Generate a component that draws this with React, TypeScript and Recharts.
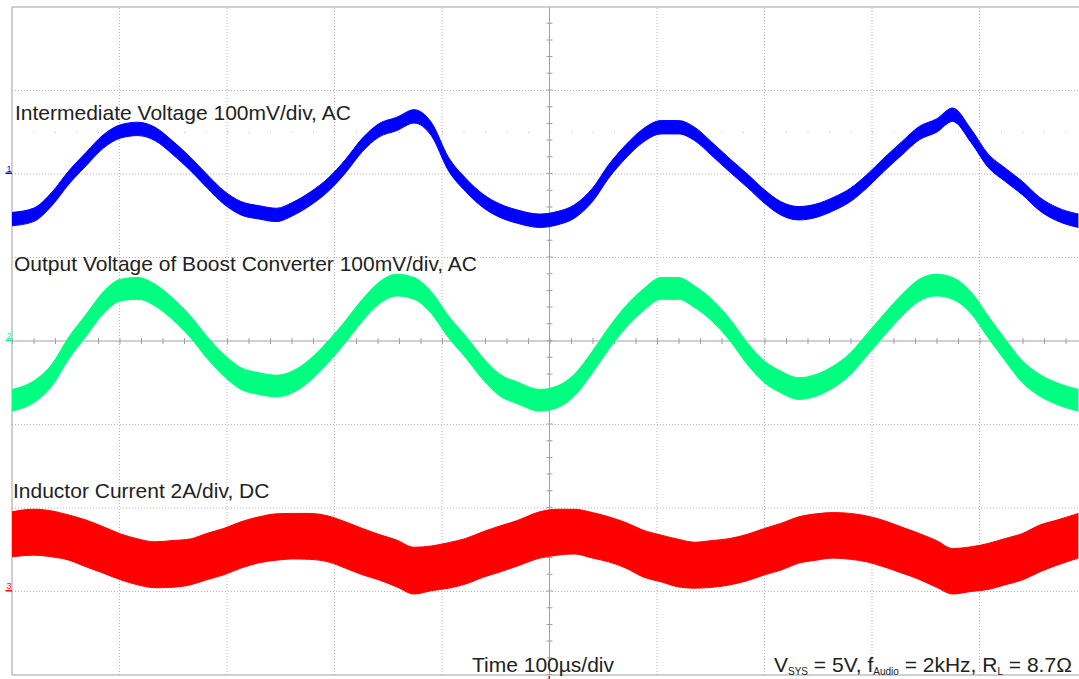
import React from "react";
import { ComposedChart, Area, XAxis, YAxis, ReferenceLine } from "recharts";

// time base: 100us/div, 10 divisions
const TIME_US = [
  0, 20, 37, 53, 69, 85, 101, 117, 133, 149,
  166, 181, 197, 213, 230, 246, 261, 277, 294, 310,
  326, 341, 358, 374, 390, 406, 422, 438, 454, 470,
  491, 507, 523, 540, 555, 571, 587, 604, 620, 635,
  651, 668, 684, 700, 715, 732, 748, 764, 780, 795,
  811, 828, 844, 860, 875, 892, 908, 924, 940, 956,
  972, 992,
];

// CH1 intermediate voltage, mV (AC), trace centre
const BLUE_MV = [
  -54, -49, -30, -4, 18, 39, 51, 54, 48, 32,
  12, -8, -28, -41, -46, -49, -42, -30, -13, 9,
  35, 52, 60, 69, 54, 12, -13, -32, -44, -51,
  -56, -53, -45, -25, 3, 27, 46, 56, 56, 48,
  30, 10, -8, -27, -41, -47, -44, -36, -25, -9,
  11, 31, 49, 58, 71, 46, 16, -1, -17, -36,
  -48, -56,
];

// CH2 boost output voltage, mV (AC), trace centre
const GREEN_MV = [
  -71, -61, -41, -8, 19, 46, 61, 63, 55, 39,
  17, -7, -29, -45, -51, -54, -49, -35, -13, 11,
  37, 57, 67, 63, 46, 17, -7, -33, -53, -62,
  -71, -67, -53, -25, 3, 29, 49, 63, 63, 53,
  37, 13, -15, -37, -49, -57, -53, -43, -27, -5,
  19, 43, 61, 67, 63, 46, 17, -11, -37, -53,
  -63, -71,
];

// CH3 inductor current, A (DC) - ripple envelope
const RED_TOP_A = [
  1.91, 1.97, 1.93, 1.83, 1.71, 1.55, 1.38, 1.26, 1.19, 1.22,
  1.26, 1.39, 1.51, 1.67, 1.79, 1.86, 1.87, 1.87, 1.81, 1.67,
  1.51, 1.37, 1.23, 1.06, 1.09, 1.17, 1.27, 1.43, 1.57, 1.7,
  1.91, 1.97, 1.97, 1.89, 1.79, 1.65, 1.47, 1.35, 1.25, 1.18,
  1.22, 1.27, 1.37, 1.51, 1.63, 1.79, 1.86, 1.89, 1.87, 1.81,
  1.7, 1.54, 1.39, 1.22, 1.03, 1.07, 1.15, 1.27, 1.39, 1.59,
  1.71, 1.87,
];
const RED_BOT_A = [
  0.83, 0.87, 0.83, 0.75, 0.59, 0.44, 0.28, 0.16, 0.09, 0.1,
  0.16, 0.28, 0.4, 0.56, 0.69, 0.75, 0.78, 0.77, 0.71, 0.56,
  0.4, 0.28, 0.11, -0.06, 0.02, 0.08, 0.18, 0.34, 0.47, 0.61,
  0.8, 0.87, 0.9, 0.8, 0.71, 0.56, 0.35, 0.23, 0.11, 0.08,
  0.1, 0.16, 0.26, 0.4, 0.51, 0.68, 0.75, 0.8, 0.77, 0.71,
  0.59, 0.44, 0.29, 0.1, -0.06, 0.0, 0.05, 0.16, 0.28, 0.47,
  0.63, 0.8,
];

const BLUE_RIPPLE_MV = 8;
const GREEN_RIPPLE_MV = 13;

// channel ground positions in divisions, and scales
const CH1_OFFSET = 2;
const CH2_OFFSET = 0;
const CH3_OFFSET = -3;
const MV_PER_DIV = 100;
const A_PER_DIV = 2;

const BLUE = "#0000ff";
const GREEN = "#00ff80";
const RED = "#ff0000";

const W = 1100;
const H = 679;
const MARGIN = { top: 7, right: 13, bottom: 4, left: 12 };
const DIV_Y = (H - MARGIN.top - MARGIN.bottom) / 8;
const groundPx = (div: number) => MARGIN.top + (4 - div) * DIV_Y;

const GRID_X = [100, 200, 300, 400, 600, 700, 800, 900];
const GRID_Y = [-3, -2, -1, 1, 2, 3];
const REF_Z = 50; // keep grid under the traces

const data = TIME_US.map((t, i) => ({
  t,
  blue: [
    CH1_OFFSET + (BLUE_MV[i] - BLUE_RIPPLE_MV) / MV_PER_DIV,
    CH1_OFFSET + (BLUE_MV[i] + BLUE_RIPPLE_MV) / MV_PER_DIV,
  ],
  green: [
    CH2_OFFSET + (GREEN_MV[i] - GREEN_RIPPLE_MV) / MV_PER_DIV,
    CH2_OFFSET + (GREEN_MV[i] + GREEN_RIPPLE_MV) / MV_PER_DIV,
  ],
  red: [CH3_OFFSET + RED_BOT_A[i] / A_PER_DIV, CH3_OFFSET + RED_TOP_A[i] / A_PER_DIV],
}));

const MARKERS = [
  { label: "1", div: CH1_OFFSET, color: BLUE },
  { label: "2", div: CH2_OFFSET, color: GREEN },
  { label: "3", div: CH3_OFFSET, color: RED },
];

const FONT = "'Liberation Sans', Arial, sans-serif";

export default function App() {
  return (
    <div
      style={{
        position: "absolute",
        left: 0,
        top: 0,
        width: 1079,
        height: 679,
        overflow: "hidden",
        background: "#fff",
      }}
    >
      <ComposedChart width={W} height={H} data={data} margin={MARGIN}>
        <XAxis dataKey="t" type="number" domain={[0, 1000]} hide allowDataOverflow />
        <YAxis type="number" domain={[-4, 4]} hide allowDataOverflow />

        {GRID_X.map((x) => (
          <ReferenceLine key={`gx${x}`} x={x} stroke="#b4b4b4" strokeDasharray="1 2" zIndex={REF_Z} />
        ))}
        {GRID_Y.map((y) => (
          <ReferenceLine key={`gy${y}`} y={y} stroke="#b4b4b4" strokeDasharray="1 2" zIndex={REF_Z} />
        ))}
        <ReferenceLine y={2.5} stroke="#b4b4b4" strokeDasharray="1 20.5" zIndex={REF_Z} />

        {/* centre axes with minor ticks */}
        <ReferenceLine x={500} stroke="#a0a0a0" zIndex={REF_Z} />
        <ReferenceLine x={500} stroke="#a0a0a0" strokeWidth={6} strokeDasharray="1 15.7" zIndex={REF_Z} />
        <ReferenceLine y={0} stroke="#a0a0a0" zIndex={REF_Z} />
        <ReferenceLine y={0} stroke="#a0a0a0" strokeWidth={6} strokeDasharray="1 20.5" zIndex={REF_Z} />

        {/* frame */}
        <ReferenceLine x={0} stroke="#a0a0a0" zIndex={REF_Z} />
        <ReferenceLine y={4} stroke="#a0a0a0" zIndex={REF_Z} />
        <ReferenceLine y={-4} stroke="#a0a0a0" zIndex={REF_Z} />

        <Area
          dataKey="blue"
          type="monotone"
          stroke={BLUE}
          strokeWidth={1}
          fill={BLUE}
          fillOpacity={1}
          dot={false}
          activeDot={false}
          isAnimationActive={false}
        />
        <Area
          dataKey="green"
          type="monotone"
          stroke={GREEN}
          strokeWidth={1}
          fill={GREEN}
          fillOpacity={1}
          dot={false}
          activeDot={false}
          isAnimationActive={false}
        />
        <Area
          dataKey="red"
          type="monotone"
          stroke={RED}
          strokeWidth={1}
          fill={RED}
          fillOpacity={1}
          dot={false}
          activeDot={false}
          isAnimationActive={false}
        />
      </ComposedChart>

      <svg
        width={1079}
        height={679}
        style={{ position: "absolute", left: 0, top: 0, pointerEvents: "none" }}
      >
        <g fontFamily={FONT} fontSize={21} fill="#222">
          <text x={15} y={120}>Intermediate Voltage 100mV/div, AC</text>
          <text x={14} y={271}>Output Voltage of Boost Converter 100mV/div, AC</text>
          <text x={13} y={498}>Inductor Current 2A/div, DC</text>
          <text x={472} y={672}>Time 100µs/div</text>
          <text x={774} y={672}>
            V
            <tspan fontSize={10} dy={3}>SYS</tspan>
            <tspan dy={-3}>{" = 5V, f"}</tspan>
            <tspan fontSize={10} dy={3}>Audio</tspan>
            <tspan dy={-3}>{" = 2kHz, R"}</tspan>
            <tspan fontSize={10} dy={3}>L</tspan>
            <tspan dy={-3}>{" = 8.7Ω"}</tspan>
          </text>
        </g>
        {MARKERS.map((m) => {
          const gy = groundPx(m.div);
          return (
            <g key={m.label}>
              <text x={6.5} y={gy - 2.5} fontFamily={FONT} fontSize={9} fill={m.color}>
                {m.label}
              </text>
              <rect x={5.5} y={gy - 1.5} width={6.5} height={1.5} fill={m.color} />
            </g>
          );
        })}
        <rect x={548.5} y={676} width={1.5} height={3} fill={RED} />
      </svg>
    </div>
  );
}
